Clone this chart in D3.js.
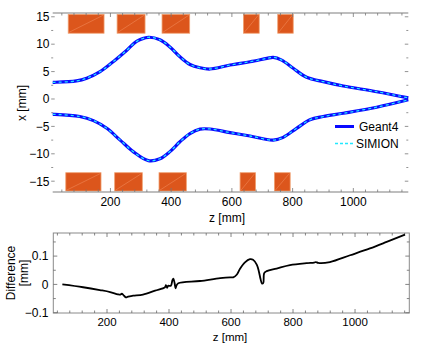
<!DOCTYPE html>
<html><head><meta charset="utf-8">
<script src="https://cdn.jsdelivr.net/npm/d3@7"></script>
<style>body{margin:0;background:#fff}svg{display:block}text{font-family:"Liberation Sans",Arial,sans-serif;fill:#000}</style>
</head><body><svg id="c" width="421" height="345"></svg>
<script>
// Trajectory envelopes (z [mm], x [mm])
const upperZ = [10, 17, 88, 122, 166, 209, 254, 286, 325, 363, 396, 429, 462, 495, 528, 594, 660, 715, 736, 764, 802, 846, 901, 967, 1077, 1181];
const upperX = [3.05, 3.05, 3.3, 3.8, 5.0, 6.8, 8.9, 10.5, 11.26, 10.8, 9.5, 7.7, 6.3, 5.7, 5.47, 6.2, 6.8, 7.4, 7.6, 7.1, 5.6, 3.96, 3.16, 2.37, 1.33, 0.2];
const lowerZ = [10, 17, 99, 144, 188, 232, 275, 325, 363, 396, 429, 462, 495, 528, 594, 660, 736, 769, 813, 857, 901, 967, 1077, 1181];
const lowerX = [-2.8, -2.8, -3.2, -3.95, -5.35, -7.5, -9.6, -11.25, -10.9, -9.6, -7.8, -6.3, -5.5, -5.47, -6.14, -6.75, -7.5, -7.0, -5.35, -3.8, -3.2, -2.6, -1.5, -0.15];
// Electrodes [zStart, zEnd]
const topElectrodes = [[61, 179], [222, 314], [370, 461], [638, 690], [751, 802]];
const bottomElectrodes = [[53, 169], [214, 305], [360, 450], [627, 678], [740, 792]];
const topElectrodeX = [12.0, 15.45];
const bottomElectrodeX = [-16.8, -13.45];
// Difference curve (z [mm], diff [mm])
const diffZ = [56, 123, 177, 210, 235, 242, 248, 255, 261, 268, 284, 316, 355, 387, 390, 394, 397, 406, 411, 414, 418, 421, 424, 430, 500, 565, 597, 607, 619, 629, 645, 661, 671, 683, 690, 695, 700, 704, 707, 715, 747, 790, 844, 868, 874, 881, 919, 984, 1048, 1102, 1161];
const diffV = [0.000, -0.010, -0.020, -0.027, -0.035, -0.036, -0.033, -0.040, -0.046, -0.043, -0.040, -0.036, -0.022, -0.010, -0.003, -0.012, -0.005, -0.005, 0.015, 0.020, 0.005, -0.014, -0.004, 0.004, 0.012, 0.022, 0.025, 0.025, 0.035, 0.055, 0.078, 0.089, 0.087, 0.070, 0.045, 0.020, 0.003, 0.005, 0.040, 0.047, 0.056, 0.068, 0.075, 0.077, 0.079, 0.076, 0.079, 0.103, 0.127, 0.150, 0.176];
// Ticks
const zTicks = [200, 400, 600, 800, 1000];
const xTicks = [15, 10, 5, 0, -5, -10, -15];
const diffTicks = [0.1, 0, -0.1];
const seriesNames = ["Geant4", "SIMION"];

const svg = d3.select("#c");
const frameCol = "#a8a8a8";
const fmt = v => (v < 0 ? "\u2212" + Math.abs(v) : String(v));

// ---------- Top plot ----------
const T = {l: 52.7, r: 408.3, t: 13, b: 192};
const zx = d3.scaleLinear().domain([9.9, 1181]).range([T.l, T.r]);
const yx = d3.scaleLinear().domain([-16.97, 15.69]).range([T.b, T.t]);
const gT = svg.append("g");

// electrodes
function drawElectrodes(list, xr) {
  list.forEach(e => {
    const x0 = zx(e[0]), x1 = zx(e[1]), y0 = yx(xr[1]), y1 = yx(xr[0]);
    gT.append("rect").attr("x", x0).attr("y", y0).attr("width", x1 - x0).attr("height", y1 - y0)
      .attr("fill", "#dc561c").attr("stroke", "#f0a070").attr("stroke-width", 0.8);
    gT.append("line").attr("x1", x0 + 1).attr("y1", y1 - 1).attr("x2", x1 - 1).attr("y2", y0 + 1)
      .attr("stroke", "#f08858").attr("stroke-width", 0.6);
  });
}
drawElectrodes(topElectrodes, topElectrodeX);
drawElectrodes(bottomElectrodes, bottomElectrodeX);

// frame lines top & bottom
[T.t, T.b].forEach(y => gT.append("line").attr("x1", T.l).attr("x2", T.r).attr("y1", y).attr("y2", y)
  .attr("stroke", frameCol).attr("stroke-width", 1.5));
// x ticks
const zMinor = d3.range(40, 1181, 40);
zMinor.forEach(z => {
  const major = z % 200 === 0;
  const len = major ? 4 : 2.5;
  gT.append("line").attr("x1", zx(z)).attr("x2", zx(z)).attr("y1", T.b).attr("y2", T.b - len).attr("stroke", "#777").attr("stroke-width", 0.8);
  gT.append("line").attr("x1", zx(z)).attr("x2", zx(z)).attr("y1", T.t).attr("y2", T.t + len).attr("stroke", "#777").attr("stroke-width", 0.8);
});
zTicks.forEach(z => gT.append("text").attr("x", zx(z)).attr("y", 206).attr("text-anchor", "middle").attr("font-size", 12).text(z));
// y ticks
d3.range(-15, 15.1, 2.5).forEach(v => {
  const major = v % 5 === 0;
  const len = major ? 3.5 : 2;
  gT.append("line").attr("x1", T.l - 1.5).attr("x2", T.l - 1.5 + len).attr("y1", yx(v)).attr("y2", yx(v)).attr("stroke", "#777").attr("stroke-width", 0.8);
  gT.append("line").attr("x1", T.r).attr("x2", T.r - len).attr("y1", yx(v)).attr("y2", yx(v)).attr("stroke", "#777").attr("stroke-width", 0.8);
});
xTicks.forEach(v => gT.append("text").attr("x", 49.5).attr("y", yx(v) + 4.3).attr("text-anchor", "end").attr("font-size", 12).text(fmt(v)));
gT.append("text").attr("x", 227).attr("y", 222).attr("text-anchor", "middle").attr("font-size", 12).text("z [mm]");
gT.append("text").attr("transform", "translate(26,103) rotate(-90)").attr("text-anchor", "middle").attr("font-size", 12).text("x [mm]");

// curves
const lineT = d3.line().x(d => zx(d[0])).y(d => yx(d[1])).curve(d3.curveCatmullRom.alpha(0.5));
const upper = upperZ.map((z, i) => [z, upperX[i]]);
const lower = lowerZ.map((z, i) => [z, lowerX[i]]);
[upper, lower].forEach(data => {
  gT.append("path").attr("d", lineT(data)).attr("fill", "none").attr("stroke", "#0a0aff").attr("stroke-width", 3.2);
  gT.append("path").attr("d", lineT(data)).attr("fill", "none").attr("stroke", "#22e8ff").attr("stroke-width", 1.3).attr("stroke-dasharray", "3,3");
});

// legend
const lg = gT.append("g");
lg.append("line").attr("x1", 335).attr("x2", 354).attr("y1", 126.5).attr("y2", 126.5).attr("stroke", "#0a0aff").attr("stroke-width", 3);
lg.append("text").attr("x", 359).attr("y", 131).attr("font-size", 12).text(seriesNames[0]);
lg.append("line").attr("x1", 335).attr("x2", 354).attr("y1", 143.5).attr("y2", 143.5).attr("stroke", "#22e8ff").attr("stroke-width", 1.5).attr("stroke-dasharray", "3,2");
lg.append("text").attr("x", 356).attr("y", 148).attr("font-size", 12).text(seriesNames[1]);

// ---------- Bottom plot ----------
const B = {l: 53.3, r: 409.3, t: 233, b: 313};
const zb = d3.scaleLinear().domain([26.8, 1175]).range([B.l, B.r]);
const yb = d3.scaleLinear().domain([-0.101, 0.1816]).range([B.b, B.t]);
const gB = svg.append("g");
gB.append("rect").attr("x", B.l).attr("y", B.t).attr("width", B.r - B.l).attr("height", B.b - B.t)
  .attr("fill", "none").attr("stroke", "#8a8a8a").attr("stroke-width", 1);
d3.range(40, 1175, 40).forEach(z => {
  const major = z % 200 === 0;
  const len = major ? 4 : 2.5;
  gB.append("line").attr("x1", zb(z)).attr("x2", zb(z)).attr("y1", B.b).attr("y2", B.b - len).attr("stroke", "#666").attr("stroke-width", 0.8);
  gB.append("line").attr("x1", zb(z)).attr("x2", zb(z)).attr("y1", B.t).attr("y2", B.t + len).attr("stroke", "#666").attr("stroke-width", 0.8);
});
d3.range(-0.1, 0.181, 0.05).forEach(v => {
  const major = Math.abs(Math.round(v * 100) % 10) === 0;
  const len = major ? 4 : 2.5;
  gB.append("line").attr("x1", B.l).attr("x2", B.l + len).attr("y1", yb(v)).attr("y2", yb(v)).attr("stroke", "#666").attr("stroke-width", 0.8);
  gB.append("line").attr("x1", B.r).attr("x2", B.r - len).attr("y1", yb(v)).attr("y2", yb(v)).attr("stroke", "#666").attr("stroke-width", 0.8);
});
zTicks.forEach(z => gB.append("text").attr("x", zb(z)).attr("y", 325.5).attr("text-anchor", "middle").attr("font-size", 11.5).text(z));
diffTicks.forEach(v => gB.append("text").attr("x", 48.5).attr("y", yb(v) + 4.3).attr("text-anchor", "end").attr("font-size", 12).text(fmt(v)));
gB.append("text").attr("x", 230).attr("y", 340.5).attr("text-anchor", "middle").attr("font-size", 11.5).text("z [mm]");
gB.append("text").attr("transform", "translate(15,273) rotate(-90)").attr("text-anchor", "middle").attr("font-size", 12).text("Difference");
gB.append("text").attr("transform", "translate(28,273) rotate(-90)").attr("text-anchor", "middle").attr("font-size", 12).text("[mm]");
const lineB = d3.line().x(d => zb(d[0])).y(d => yb(d[1])).curve(d3.curveCatmullRom.alpha(0.5));
gB.append("path").attr("d", lineB(diffZ.map((z, i) => [z, diffV[i]]))).attr("fill", "none").attr("stroke", "#000").attr("stroke-width", 1.8);
</script></body></html>
